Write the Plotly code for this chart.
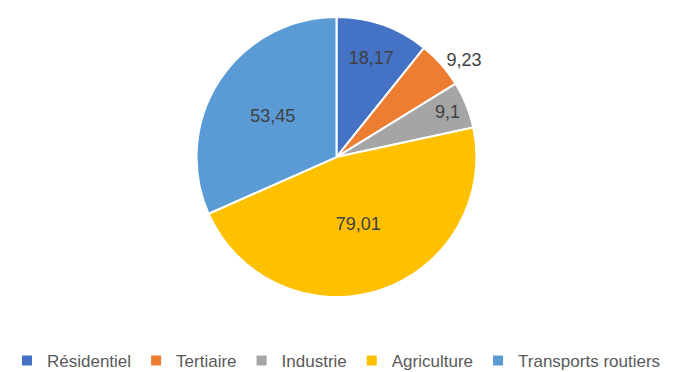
import plotly.graph_objects as go

# Émissions par secteur
categories = ["Résidentiel", "Tertiaire", "Industrie", "Agriculture", "Transports routiers"]
values = [18.17, 9.23, 9.1, 79.01, 53.45]
colors = ["#4472C4", "#ED7D31", "#A5A5A5", "#FFC000", "#5B9BD5"]
text_positions = ["inside", "outside", "inside", "inside", "inside"]

font_family = "Liberation Sans, Arial, sans-serif"

fig = go.Figure(
    go.Pie(
        labels=categories,
        values=values,
        sort=False,
        direction="clockwise",
        rotation=0,
        marker=dict(colors=colors, line=dict(color="white", width=2)),
        textinfo="value",
        textposition=text_positions,
        insidetextorientation="horizontal",
        textfont=dict(family=font_family, size=18, color="#404040"),
        outsidetextfont=dict(family=font_family, size=18, color="#404040"),
        domain=dict(x=[0.2, 0.8], y=[0.2016, 0.954]),
        hoverinfo="label+value",
    )
)

fig.update_layout(
    width=673,
    height=372,
    margin=dict(l=0, r=0, t=0, b=0, autoexpand=False),
    paper_bgcolor="white",
    plot_bgcolor="white",
    separators=", ",
    showlegend=True,
    legend=dict(
        orientation="h",
        x=0.5,
        xanchor="center",
        y=0.03,
        yanchor="middle",
        itemwidth=30,
        font=dict(family=font_family, size=17, color="#595959"),
    ),
)

fig.write_html("out.html")
